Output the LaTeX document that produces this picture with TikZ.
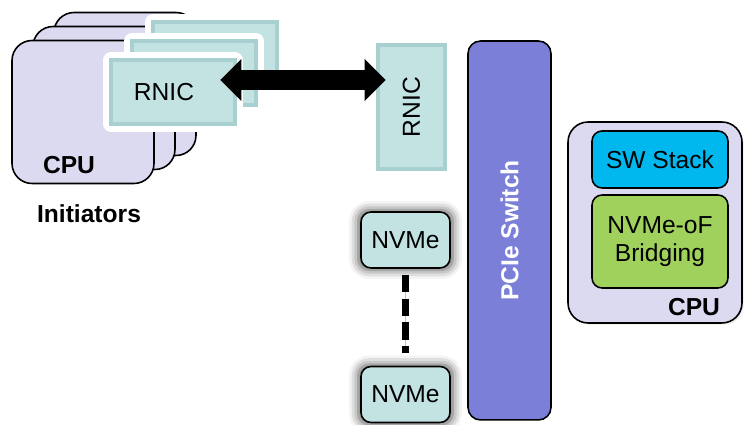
\documentclass[tikz,border=0pt]{standalone}
\usepackage{fontspec}
\setmainfont{Liberation Sans}
\usetikzlibrary{arrows.meta,shadows,shadows.blur}

\definecolor{cpufill}{HTML}{DCDAF0}
\definecolor{nicfill}{HTML}{C3E3E3}
\definecolor{nicedge}{HTML}{A9D0D0}
\definecolor{switchfill}{HTML}{7C7FD8}
\definecolor{swfill}{HTML}{00B8EE}
\definecolor{bridgefill}{HTML}{9FD15C}

\begin{document}
\begin{tikzpicture}
  [x=0.02cm,y=-0.02cm,
   every node/.style={font=\fontsize{14}{16}\selectfont},
   card/.style={rounded corners=0.4cm,draw,line width=0.9pt,fill=cpufill,
     minimum width=2.84cm,minimum height=2.86cm},
   nic/.style={fill=nicfill,draw=nicedge,line width=2.5pt,
     drop shadow={opacity=0.3,shadow xshift=2pt,shadow yshift=-2pt},
     preaction={draw=white,line width=9pt,line join=round}},
   disk/.style={rounded corners=0.2cm,draw,line width=0.9pt,fill=nicfill,
     minimum width=1.78cm,minimum height=1.12cm,
     blur shadow={shadow xshift=0pt,shadow yshift=0pt,
       shadow blur radius=5pt,shadow scale=1.06,shadow opacity=70}},
   inner/.style={rounded corners=0.2cm,draw,line width=0.9pt,
     minimum width=2.72cm,align=center},
   bigarrow/.style={line width=11pt,{Triangle[width=23pt,length=12pt]}-{Triangle[width=23pt,length=12pt]}}]
  \useasboundingbox (0,0) rectangle (752,425);

  % initiator hosts, stacked
  \node (cpuC) at (125,84) [card] {};
  \node (cpuB) at (104,98) [card] {};
  \node (cpuA) at (83,112) [card] {};
  \node (cpuLbl) at (69,165) {\bfseries CPU};
  \node (init) at (89,214) {\bfseries Initiators};

  % their NICs (white frame sits 4.5pt outside the node border)
  \node (rnicC) at (215,54) [nic,minimum width=2.48cm,minimum height=1.28cm] {};
  \node (rnicB) at (194,73) [nic,minimum width=2.48cm,minimum height=1.28cm] {};
  \node (rnicA) at (173,92) [nic,minimum width=2.48cm,minimum height=1.28cm,
    label={[xshift=-0.18cm]center:RNIC}] {};

  % target side
  \node (rnicR) at (411.5,107) [nic,rotate=90,minimum width=2.48cm,minimum height=1.34cm] {RNIC};
  \node (pcie) at (509.5,230.5) [rounded corners=0.25cm,draw,line width=0.9pt,
    fill=switchfill,rotate=90,minimum width=7.58cm,minimum height=1.66cm,
    text=white,font=\fontsize{14}{16}\selectfont\bfseries] {PCIe Switch};
  \node (nvme1) at (405.5,240) [disk] {NVMe};
  \node (nvme2) at (405.5,394.5) [disk] {NVMe};

  \node (host) at (655,222.5) [rounded corners=0.4cm,draw,line width=0.9pt,
    fill=cpufill,minimum width=3.48cm,minimum height=4.02cm,
    drop shadow={opacity=0.15,shadow xshift=1pt,shadow yshift=-1pt}] {};
  \node (sw) at (660,159.5) [inner,fill=swfill,minimum height=1.14cm] {SW Stack};
  \node (bridge) at (660,241.5) [inner,fill=bridgefill,minimum height=1.86cm]
    {NVMe-oF\\Bridging};
  \node (hostLbl) at (694,307) {\bfseries CPU};

  \draw [bigarrow] ([shift={(-17,-12)}]rnicA.east) -- ([shift={(10,-27)}]rnicR.north);
  \draw [nicedge,line width=0.6pt,shorten <=3.5pt,shorten >=7pt] (nvme1) -- (nvme2);
  \draw [line width=3.8pt,dash pattern=on 10pt off 3.5pt,shorten <=3.5pt,shorten >=7pt]
    (nvme1) -- (nvme2);
\end{tikzpicture}
\end{document}
